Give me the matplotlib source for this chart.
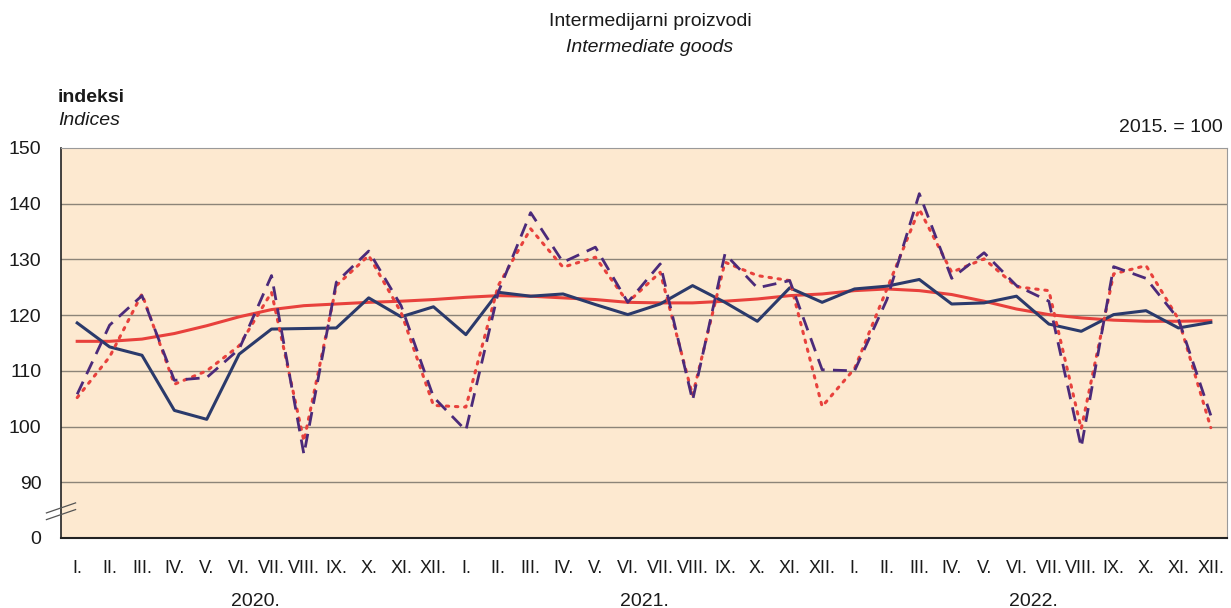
import matplotlib
matplotlib.use("Agg")
import matplotlib.pyplot as plt
import numpy as np

months = ["I.", "II.", "III.", "IV.", "V.", "VI.", "VII.", "VIII.", "IX.", "X.", "XI.", "XII."]
years = ["2020.", "2021.", "2022."]
month_labels = months * 3

seasonally_adjusted = [118.6, 114.3, 112.8, 102.9, 101.3, 113.0, 117.5, 117.6, 117.7, 123.1, 119.7, 121.5,
                       116.5, 124.1, 123.4, 123.8, 121.9, 120.1, 122.0, 125.3, 122.3, 118.9, 124.9, 122.3,
                       124.7, 125.2, 126.4, 122.0, 122.2, 123.4, 118.4, 117.1, 120.1, 120.8, 117.7, 118.7]
original = [105.8, 118.2, 123.5, 108.3, 108.8, 113.9, 127.1, 95.0, 125.9, 131.5, 121.7, 105.3,
            99.3, 124.1, 138.4, 129.5, 132.2, 122.3, 129.2, 104.7, 131.0, 124.9, 126.2, 110.2,
            110.0, 122.8, 141.8, 126.6, 131.2, 125.3, 122.5, 96.3, 128.7, 126.6, 119.3, 102.0]
calendar_adjusted = [105.2, 112.5, 123.8, 107.6, 110.0, 114.5, 124.1, 97.4, 125.3, 130.7, 120.5, 103.8,
                     103.5, 125.3, 135.5, 128.6, 130.4, 122.3, 127.7, 105.6, 129.5, 127.1, 126.2, 103.6,
                     110.4, 124.7, 139.0, 127.7, 130.1, 125.1, 124.4, 99.6, 127.4, 128.9, 119.3, 99.8]
trend = [115.3, 115.3, 115.7, 116.7, 118.1, 119.7, 121.0, 121.7, 122.0, 122.3, 122.5, 122.8,
         123.2, 123.5, 123.4, 123.1, 122.8, 122.3, 122.2, 122.2, 122.5, 122.9, 123.5, 123.8,
         124.4, 124.7, 124.4, 123.7, 122.5, 121.1, 120.1, 119.5, 119.1, 118.9, 118.9, 119.0]

y_ticks = [80, 90, 100, 110, 120, 130, 140, 150]
y_tick_labels = ["0", "90", "100", "110", "120", "130", "140", "150"]

plt.rcParams['font.family'] = ['Liberation Sans', 'DejaVu Sans']

fig = plt.figure(figsize=(12.31, 6.08), dpi=100)
ax = fig.add_axes([61/1231, 1-538/608, (1227-61)/1231, (538-148)/608])
ax.set_facecolor("#FDE9D0")

x = np.arange(len(month_labels))
ax.plot(x, trend, color="#E8413C", lw=2.2, zorder=3)
ax.plot(x, seasonally_adjusted, color="#2B3A6B", lw=2.2, zorder=4)
ax.plot(x, calendar_adjusted, color="#E8413C", lw=2.2, linestyle=(0, (0.8, 2.2)),
        dash_capstyle="round", zorder=5)
ax.plot(x, original, color="#4B2A7A", lw=2.0, linestyle=(0, (5, 3)), zorder=6)

ax.set_xlim(-0.5, 35.5)
ax.set_ylim(80, 150)
ax.set_yticks(y_ticks)
ax.set_yticklabels(y_tick_labels, fontsize=14)
ax.set_xticks(x)
ax.set_xticklabels(month_labels, fontsize=13)
ax.tick_params(axis="both", length=0, colors="#1A1A1A")
ax.tick_params(axis="x", pad=16)
ax.tick_params(axis="y", pad=14)
for v in [90, 100, 110, 120, 130, 140]:
    ax.axhline(v, color="#8C8478", lw=1.0, zorder=1)

ax.spines["left"].set_color("#222222")
ax.spines["bottom"].set_color("#222222")
ax.spines["left"].set_linewidth(1.2)
ax.spines["bottom"].set_linewidth(1.5)
ax.spines["top"].set_color("#9A9A9A")
ax.spines["right"].set_color("#9A9A9A")

# axis break marks
for dy in (-0.6, 0.6):
    ax.plot([-0.95, -0.05], [84.8 + dy - 0.9, 84.8 + dy + 0.9], color="#555555", lw=0.9,
            clip_on=False, zorder=7)

# year labels
for i, yr in enumerate(years):
    fig.text((77 + (i * 12 + 5.5) * 32.43) / 1231, 1 - 601 / 608, yr, fontsize=14,
             ha="center", va="center", color="#1A1A1A")

fig.text(650/1231, 1-22/608, "Intermedijarni proizvodi", fontsize=14, ha="center", va="center",
         color="#1A1A1A")
fig.text(650/1231, 1-47/608, "Intermediate goods", fontsize=14, style="italic", ha="center",
         va="center", color="#1A1A1A")
fig.text(58/1231, 1-97/608, "indeksi", fontsize=14, weight="bold", ha="left", va="center",
         color="#1A1A1A")
fig.text(58/1231, 1-120/608, "Indices", fontsize=14, style="italic", ha="left", va="center",
         color="#1A1A1A")
fig.text(1223/1231, 1-128/608, "2015. = 100", fontsize=14, ha="right", va="center", color="#1A1A1A")

fig.savefig("out.png", dpi=100, facecolor="white")
